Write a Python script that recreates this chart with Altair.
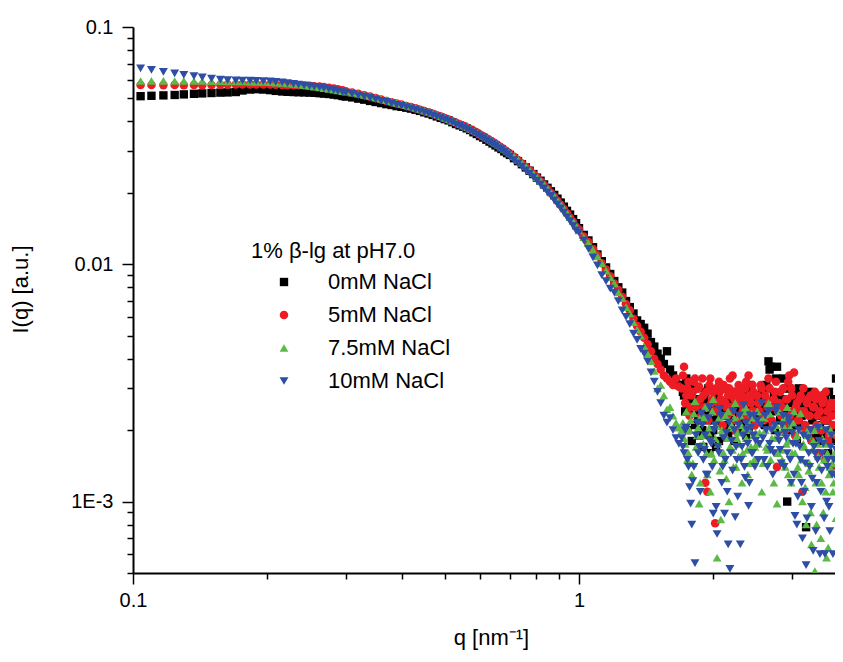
import altair as alt
import pandas as pd

SERIES = ["0mM NaCl", "5mM NaCl", "7.5mM NaCl", "10mM NaCl"]
COLORS = ["#000000", "#ED1C24", "#5CB946", "#2E4EA6"]
SHAPES = ["square", "circle", "triangle-up", "triangle-down"]
SIZES = [70, 80, 120, 120]
LEGEND_TITLE = "1% β-lg at pH7.0"

X_TICKS = [0.1, 0.2, 0.3, 0.4, 0.5, 0.6, 0.7, 0.8, 0.9, 1, 2, 3]
Y_TICKS = [0.1, 0.09, 0.08, 0.07, 0.06, 0.05, 0.04, 0.03, 0.02,
           0.01, 0.009, 0.008, 0.007, 0.006, 0.005, 0.004, 0.003, 0.002,
           0.001, 0.0009, 0.0008, 0.0007, 0.0006, 0.0005]

q = [
    0.104, 0.110, 0.117, 0.124, 0.130, 0.137, 0.143, 0.150, 0.157, 0.163,
    0.170, 0.176, 0.183, 0.189, 0.196, 0.203, 0.209, 0.216, 0.222, 0.229,
    0.235, 0.242, 0.249, 0.255, 0.262, 0.268, 0.275, 0.282, 0.288, 0.295,
    0.30, 0.31, 0.32, 0.33, 0.34, 0.35, 0.36, 0.37, 0.38, 0.39,
    0.40, 0.41, 0.42, 0.43, 0.44, 0.45, 0.46, 0.47, 0.48, 0.49,
    0.50, 0.51, 0.52, 0.53, 0.54, 0.55, 0.56, 0.57, 0.58, 0.59,
    0.60, 0.61, 0.62, 0.63, 0.64, 0.65, 0.66, 0.67, 0.68, 0.69,
    0.700, 0.715, 0.730, 0.745, 0.760, 0.775, 0.790, 0.805, 0.820, 0.835,
    0.850, 0.865, 0.880, 0.895, 0.910, 0.925, 0.940, 0.955, 0.970, 0.985,
    1.000, 1.025, 1.050, 1.075, 1.100, 1.125, 1.150, 1.175, 1.200, 1.225,
    1.250, 1.275, 1.300, 1.325, 1.350, 1.375, 1.400, 1.425, 1.450, 1.475,
    1.500, 1.525, 1.550, 1.575, 1.600, 1.625, 1.650, 1.675,
    1.70, 1.72, 1.74, 1.76, 1.78, 1.80, 1.82, 1.84, 1.86, 1.88,
    1.90, 1.92, 1.94, 1.96, 1.98, 2.00, 2.02, 2.04, 2.06, 2.08,
    2.10, 2.12, 2.14, 2.16, 2.18, 2.20, 2.22, 2.24, 2.26, 2.28,
    2.30, 2.32, 2.34, 2.36, 2.38, 2.40, 2.42, 2.44, 2.46, 2.48,
    2.51, 2.54, 2.57, 2.60, 2.63, 2.66, 2.69, 2.72, 2.75, 2.78,
    2.81, 2.84, 2.87, 2.90, 2.93, 2.96, 2.99, 3.02, 3.05, 3.08,
    3.11, 3.14, 3.17, 3.20, 3.23, 3.26, 3.29, 3.32, 3.35, 3.38,
    3.41, 3.44, 3.47, 3.50, 3.53, 3.56, 3.59, 3.62, 3.65, 3.68,
    3.71, 3.74, 3.77,
]

# interleaved high-q points
q_hi = [
    1.71, 1.73, 1.75, 1.77, 1.79, 1.81, 1.83, 1.85, 1.87, 1.89,
    1.91, 1.93, 1.95, 1.97, 1.99, 2.01, 2.03, 2.05, 2.07, 2.09,
    2.11, 2.13, 2.15, 2.17, 2.19, 2.21, 2.23, 2.25, 2.27, 2.29,
    2.31, 2.33, 2.35, 2.37, 2.39, 2.41, 2.43, 2.45, 2.47, 2.49,
    2.525, 2.555, 2.585, 2.615, 2.645, 2.675, 2.705, 2.735, 2.765, 2.795,
    2.825, 2.855, 2.885, 2.915, 2.945, 2.975, 3.005, 3.035, 3.065, 3.095,
    3.125, 3.155, 3.185, 3.215, 3.245, 3.275, 3.305, 3.335, 3.365, 3.395,
    3.425, 3.455, 3.485, 3.515, 3.545, 3.575, 3.605, 3.635, 3.665, 3.695,
    3.725,
]

# intensities in units of 1e-5 a.u.
black = [
    5110, 5130, 5150, 5170, 5200, 5230, 5250, 5270, 5290, 5300,
    5320, 5400, 5450, 5470, 5450, 5420, 5380, 5350, 5330, 5320,
    5310, 5300, 5290, 5280, 5260, 5240, 5220, 5190, 5160, 5120,
    5090, 5050, 4990, 4940, 4880, 4830, 4780, 4730, 4690, 4640,
    4610, 4570, 4530, 4480, 4430, 4370, 4320, 4260, 4200, 4140,
    4090, 4040, 3970, 3900, 3850, 3800, 3740, 3680, 3600, 3540,
    3470, 3420, 3350, 3290, 3230, 3170, 3110, 3060, 2990, 2940,
    2890, 2800, 2720, 2640, 2560, 2480, 2400, 2320, 2250, 2170,
    2100, 2030, 1960, 1890, 1820, 1750, 1680, 1620, 1550, 1490,
    1420, 1330, 1260, 1180, 1100, 1030, 970, 910, 850, 800,
    760, 700, 660, 620, 580, 560, 540, 510, 470, 450,
    420, 400, 380, 430, 360, 340, 320, 310,
    310, 280, 330, 250, 300, 320, 210, 270, 190, 240,
    170, 290, 220, 160, 250, 200, 280, 230, 180, 260,
    210, 300, 240, 190, 270, 220, 250, 200, 290, 230,
    260, 210, 300, 240, 270, 200, 310, 250, 280, 230,
    260, 220, 290, 240, 310, 390, 370, 250, 200, 370,
    280, 230, 330, 260, 100, 300, 220, 270, 240, 180,
    300, 250, 210, 280, 78, 240, 290, 200, 260, 230,
    180, 270, 210, 250, 190, 280, 220, 160, 240, 200,
    260, 180, 330,
]
black_hi = [
    290, 240, 200, 270, 180, 240, 300, 220, 260, 200,
    270, 230, 300, 190, 250, 220, 170, 290, 240, 210,
    260, 190, 230, 280, 210, 250, 180, 270, 230, 200,
    240, 280, 220, 190, 260, 230, 290, 210, 250, 270,
    230, 280, 250, 210, 300, 360, 240, 280, 330, 250,
    220, 270, 240, 300, 200, 260, 230, 280, 210, 250,
    270, 230, 290, 200, 260, 240, 280, 220, 250, 190,
    240, 210, 270, 230, 180, 260, 220, 290, 240, 200,
    270,
]

red = [
    5700, 5700, 5690, 5700, 5690, 5700, 5690, 5700, 5710, 5720,
    5720, 5730, 5730, 5730, 5720, 5720, 5710, 5700, 5690, 5680,
    5680, 5670, 5650, 5630, 5610, 5580, 5540, 5500, 5460, 5410,
    5360, 5300, 5230, 5160, 5090, 5020, 4950, 4880, 4820, 4760,
    4710, 4650, 4600, 4540, 4480, 4420, 4370, 4310, 4250, 4190,
    4130, 4070, 4010, 3950, 3890, 3830, 3770, 3710, 3650, 3590,
    3520, 3460, 3400, 3340, 3280, 3220, 3160, 3100, 3040, 2980,
    2920, 2840, 2750, 2660, 2570, 2490, 2400, 2320, 2240, 2160,
    2080, 2000, 1930, 1850, 1780, 1710, 1640, 1570, 1510, 1440,
    1400, 1310, 1240, 1160, 1090, 1010, 950, 890, 830, 780,
    730, 680, 640, 590, 550, 520, 490, 460, 430, 400,
    380, 360, 340, 330, 320, 310, 330, 305,
    300, 370, 280, 320, 250, 290, 330, 260, 305, 230,
    280, 120, 110, 310, 260, 290, 81, 240, 320, 270,
    210, 300, 250, 280, 330, 240, 290, 200, 270, 310,
    230, 280, 250, 300, 220, 340, 270, 240, 290, 210,
    280, 240, 300, 220, 270, 330, 250, 210, 290, 140,
    260, 230, 300, 200, 270, 340, 300, 240, 190, 260,
    220, 280, 110, 240, 200, 270, 230, 180, 250, 290,
    210, 160, 240, 200, 270, 150, 220, 180, 250, 140,
    210, 260, 190,
]
red_hi = [
    340, 260, 300, 230, 280, 320, 250, 300, 270, 330,
    250, 290, 220, 330, 270, 240, 300, 260, 290, 230,
    310, 260, 230, 300, 250, 340, 270, 220, 290, 260,
    300, 240, 270, 320, 230, 280, 260, 310, 240, 280,
    260, 310, 230, 280, 250, 300, 220, 270, 320, 240,
    290, 250, 210, 270, 320, 230, 280, 350, 250, 220,
    270, 240, 300, 210, 260, 230, 280, 200, 250, 270,
    230, 280, 200, 260, 220, 290, 240, 190, 260, 230,
    250,
]

green = [
    5920, 5930, 5930, 5920, 5930, 5920, 5920, 5910, 5910, 5900,
    5900, 5890, 5880, 5870, 5860, 5850, 5830, 5810, 5780, 5750,
    5720, 5680, 5640, 5600, 5560, 5520, 5480, 5440, 5400, 5360,
    5340, 5290, 5230, 5170, 5110, 5040, 4970, 4910, 4850, 4790,
    4740, 4680, 4630, 4570, 4510, 4450, 4400, 4340, 4280, 4210,
    4150, 4090, 4030, 3970, 3910, 3850, 3790, 3730, 3670, 3610,
    3540, 3480, 3420, 3360, 3300, 3240, 3180, 3120, 3060, 3000,
    2940, 2850, 2760, 2670, 2590, 2500, 2420, 2330, 2250, 2170,
    2090, 2010, 1940, 1860, 1790, 1720, 1650, 1580, 1520, 1450,
    1390, 1300, 1230, 1150, 1080, 1010, 940, 880, 830, 760,
    720, 660, 620, 570, 530, 500, 450, 420, 390, 355,
    300, 310, 280, 245, 250, 230, 215, 205,
    200, 185, 240, 160, 220, 145, 265, 190, 98, 230,
    175, 250, 130, 205, 160, 270, 185, 58, 225, 84,
    195, 150, 125, 240, 170, 210, 140, 260, 185, 155,
    230, 120, 200, 250, 165, 215, 145, 235, 190, 170,
    240, 195, 110, 225, 170, 260, 150, 205, 185, 98,
    240, 165, 210, 140, 250, 180, 120, 215, 160, 190,
    130, 235, 100, 170, 80, 200, 145, 66, 180, 51,
    80, 155, 210, 120, 90, 175, 58, 64, 140, 195,
    110, 160, 85,
]
green_hi = [
    215, 175, 150, 200, 130, 235, 170, 205, 120, 190,
    225, 160, 195, 110, 240, 150, 210, 175, 135, 200,
    160, 230, 185, 100, 205, 165, 225, 140, 195, 175,
    210, 160, 240, 185, 130, 200, 170, 225, 150, 195,
    175, 220, 145, 200, 165, 235, 185, 120, 210, 160,
    195, 150, 225, 175, 130, 205, 160, 240, 185, 140,
    200, 150, 175, 115, 190, 135, 90, 165, 200, 120,
    175, 140, 70, 185, 150, 110, 160, 130, 200, 145,
    120,
]

blue = [
    6700, 6600, 6470, 6380, 6290, 6210, 6140, 6060, 6000, 5970,
    5960, 5950, 5940, 5930, 5920, 5900, 5870, 5840, 5800, 5760,
    5720, 5680, 5640, 5600, 5560, 5520, 5470, 5420, 5370, 5310,
    5290, 5230, 5150, 5090, 5030, 4950, 4880, 4830, 4770, 4700,
    4650, 4600, 4540, 4470, 4420, 4370, 4310, 4240, 4190, 4130,
    4070, 4010, 3960, 3880, 3830, 3780, 3710, 3650, 3590, 3520,
    3460, 3400, 3340, 3270, 3220, 3160, 3090, 3040, 2980, 2910,
    2840, 2750, 2660, 2580, 2490, 2410, 2330, 2250, 2170, 2090,
    2010, 1940, 1860, 1790, 1720, 1650, 1580, 1520, 1450, 1390,
    1360, 1260, 1160, 1070, 990, 900, 850, 790, 760, 700,
    640, 600, 560, 510, 480, 440, 420, 390, 350, 320,
    290, 260, 230, 215, 225, 200, 185, 175,
    185, 160, 205, 140, 98, 122, 55, 215, 170, 235,
    150, 190, 130, 250, 175, 89, 210, 73, 160, 230,
    140, 89, 195, 66, 52, 180, 240, 86, 150, 210,
    66, 170, 255, 126, 200, 96, 230, 160, 190, 140,
    220, 175, 260, 150, 200, 240, 165, 130, 210, 250,
    180, 145, 230, 195, 160, 215, 120, 175, 87, 80,
    200, 150, 70, 110, 54, 185, 140, 95, 62, 160,
    120, 205, 60, 135, 175, 60, 100, 150, 75, 190,
    60, 130, 165,
]
blue_hi = [
    170, 200, 150, 115, 80, 140, 190, 160, 110, 210,
    165, 130, 225, 180, 140, 200, 95, 170, 245, 120,
    185, 150, 110, 215, 160, 135, 200, 170, 105, 230,
    150, 190, 140, 215, 175, 120, 205, 160, 230, 180,
    150, 210, 185, 230, 140, 175, 200, 160, 240, 190,
    165, 210, 140, 185, 225, 150, 195, 130, 175, 105,
    170, 120, 190, 145, 85, 160, 200, 125, 170, 75,
    150, 180, 110, 160, 85, 200, 140, 95, 170, 130,
    150,
]

rows = []
for name, vals, vals_hi in zip(SERIES, [black, red, green, blue],
                               [black_hi, red_hi, green_hi, blue_hi]):
    assert len(vals) == len(q), (name, len(vals), len(q))
    assert len(vals_hi) == len(q_hi), (name, len(vals_hi), len(q_hi))
    for qq, v in zip(q + q_hi, vals + vals_hi):
        rows.append({"q": qq, "I": v * 1e-5, "series": name})
df = pd.DataFrame(rows)

FONT = "Liberation Sans"
MAJOR = "abs(log(datum.value)/LN10 - round(log(datum.value)/LN10)) < 0.001"

x_axis = alt.Axis(
    values=X_TICKS,
    labelExpr="datum.value == 0.1 ? '0.1' : (datum.value == 1 ? '1' : '')",
    tickSize={"condition": {"test": MAJOR, "value": 11}, "value": 6},
    labelPadding=6,
    labelOverlap=False,
    labelFlush=False,
    title="q [nm⁻¹]",
    titleX=358,
    titleY=64,
    titleAlign="center",
    titleBaseline="middle",
)
y_axis = alt.Axis(
    values=Y_TICKS,
    labelExpr="datum.value == 0.1 ? '0.1' : (datum.value == 0.01 ? '0.01' : (datum.value == 0.001 ? '1E-3' : ''))",
    tickSize={"condition": {"test": MAJOR, "value": 11}, "value": 6},
    labelPadding=9,
    labelOverlap=False,
    labelFlush=False,
    title="I(q) [a.u.]",
    titleX=-113,
    titleY=262,
    titleAngle=270,
    titleAlign="center",
    titleBaseline="middle",
)

chart = alt.Chart(df).mark_point(filled=True, opacity=1, clip=True).encode(
    x=alt.X("q:Q", scale=alt.Scale(type="log", domain=[0.1, 3.75], nice=False), axis=x_axis),
    y=alt.Y("I:Q", scale=alt.Scale(type="log", domain=[5e-4, 0.1], nice=False), axis=y_axis),
    color=alt.Color("series:N", scale=alt.Scale(domain=SERIES, range=COLORS),
                    legend=alt.Legend(title=LEGEND_TITLE)),
    shape=alt.Shape("series:N", scale=alt.Scale(domain=SERIES, range=SHAPES),
                    legend=alt.Legend(title=LEGEND_TITLE)),
    size=alt.Size("series:N", scale=alt.Scale(domain=SERIES, range=SIZES), legend=None),
).properties(
    width=702,
    height=546,
    autosize=alt.AutoSizeParams(type="none"),
    padding={"left": 125, "top": 19, "right": 0, "bottom": 81},
    background="white",
).configure_view(
    stroke=None
).configure_axis(
    grid=False,
    domainColor="black",
    domainWidth=2,
    tickColor="black",
    tickWidth=1.5,
    labelFont=FONT,
    labelFontSize=20,
    labelColor="black",
    titleFont=FONT,
    titleFontSize=22,
    titleFontWeight="normal",
    titleColor="black",
).configure_legend(
    orient="none",
    legendX=118,
    legendY=214,
    padding=0,
    titleFont=FONT,
    titleFontSize=22,
    titleFontWeight="normal",
    titleColor="black",
    titlePadding=8,
    labelFont=FONT,
    labelFontSize=22,
    labelColor="black",
    symbolSize=80,
    symbolOffset=22,
    labelOffset=33,
    rowPadding=11,
    symbolStrokeWidth=0,
)

chart.save("out.html", embed_options={"renderer": "svg", "actions": False})
